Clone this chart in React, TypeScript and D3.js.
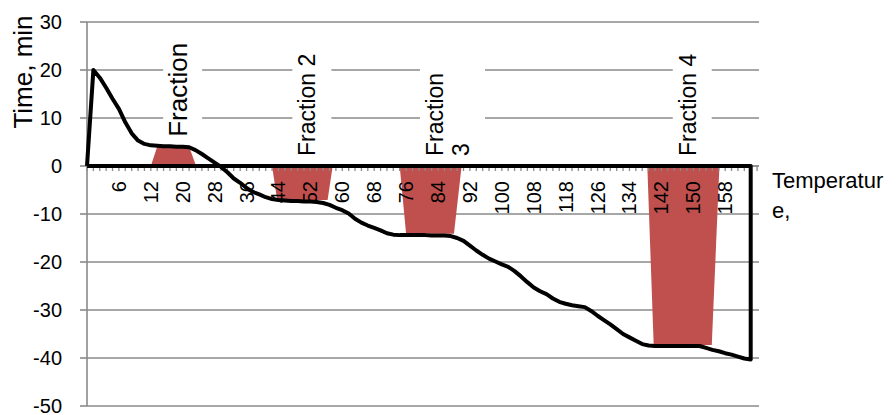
import * as d3 from 'd3';
import React, { useEffect, useRef } from 'react';

// time (min) at each temperature step
const timeValues = [
  0, 20, 18.4, 16.3, 14, 11.9, 9.1, 6.8, 5.3, 4.6,
  4.3, 4.2, 4.1, 4.1, 4.0, 4.0, 3.9, 3.3, 2.5, 1.6,
  0.7, -0.2, -1.3, -2.6, -3.5, -4.6, -5.4, -5.9, -6.5, -6.9,
  -7.1, -7.2, -7.3, -7.3, -7.4, -7.4, -7.5, -7.7, -8.1, -8.7,
  -9.2, -9.9, -11.0, -11.8, -12.4, -12.9, -13.4, -14.0, -14.3, -14.4,
  -14.4, -14.4, -14.4, -14.4, -14.5, -14.5, -14.5, -14.6, -15.0, -15.6,
  -16.6, -17.6, -18.5, -19.3, -19.9, -20.5, -21.0, -21.9, -23.0, -24.2,
  -25.3, -26.1, -26.7, -27.6, -28.3, -28.7, -29.0, -29.2, -29.4, -30.2,
  -31.2, -32.1, -33.0, -34.0, -35.0, -35.7, -36.4, -37.1, -37.4, -37.5,
  -37.5, -37.5, -37.5, -37.5, -37.5, -37.5, -37.5, -37.9, -38.3, -38.6,
  -39.0, -39.3, -39.7, -40.1, -40.3,
];

// category labels shown on every 5th step
const tempLabels = ['6', '12', '20', '28', '36', '44', '52', '60', '68', '76',
  '84', '92', '100', '108', '118', '126', '134', '142', '150', '158'];
const labelEvery = 5;

// fraction bands: [category, value]
const fraction1: [number, number][] = [[10, 0], [11, 4.0], [16, 4.0], [17.1, 0]];
const fraction2: [number, number][] = [[29, 0], [29.8, -7.1], [37.7, -7.1], [38.5, 0]];
const fraction3: [number, number][] = [[49, 0], [50, -14.1], [57.5, -14.1], [58.7, 0]];
const fraction4: [number, number][] = [[87.8, 0], [88.8, -37.3], [97.9, -37.3], [99.1, 0]];
const fractions = [fraction1, fraction2, fraction3, fraction4];
const fractionLabels = [['Fraction'], ['Fraction 2'], ['Fraction', '3'], ['Fraction 4']];
const labelSizes = [26, 23, 23, 23];

const yTicks = [30, 20, 10, 0, -10, -20, -30, -40, -50];

const W = 896;
const H = 415;
const FONT = '"Liberation Sans", Arial, sans-serif';

export default function App() {
  const svgRef = useRef<SVGSVGElement>(null);

  useEffect(() => {
    const svg = d3.select(svgRef.current).html('');
    const left = 87;
    const right = 759;

    // axis runs a little past the last category
    const x = d3.scaleLinear().domain([0, 105.3]).range([left, right]);
    const y = d3.scaleLinear().domain([-50, 30]).range([406, 22]);
    const grid = '#8a8a8a';

    svg.append('rect').attr('width', W).attr('height', H).attr('fill', '#fff');

    // gridlines
    svg.append('g')
      .selectAll('line')
      .data(yTicks)
      .enter().append('line')
      .attr('x1', left).attr('x2', right)
      .attr('y1', d => y(d)).attr('y2', d => y(d))
      .attr('stroke', grid).attr('stroke-width', 1.6);

    // fraction areas
    const area = d3.area<[number, number]>()
      .x(d => x(d[0]))
      .y0(y(0))
      .y1(d => y(d[1]));
    svg.append('g')
      .selectAll('path')
      .data(fractions)
      .enter().append('path')
      .attr('d', d => area(d)!)
      .attr('fill', '#C0504D');

    // fraction labels with white boxes
    fractions.forEach((f, i) => {
      const top = f.reduce((m, p) => Math.max(m, p[1]), 0);
      const cx = (x(f[1][0]) + x(f[2][0])) / 2 + 5;
      const bottom = y(top) - 10;
      const size = labelSizes[i];
      const lines = fractionLabels[i];
      const lineH = size * 1.13;
      const g = svg.append('g');
      const t = g.append('text')
        .attr('transform', `translate(${cx},${bottom}) rotate(-90)`)
        .attr('font-family', FONT)
        .attr('font-size', size)
        .attr('fill', '#000');
      lines.forEach((ln, k) => {
        t.append('tspan')
          .attr('x', 0)
          .attr('y', k * lineH)
          .attr('dominant-baseline', 'central')
          .text(ln);
      });
      const len = Math.max(...(t.selectAll('tspan').nodes() as SVGTextContentElement[])
        .map(n => n.getComputedTextLength()));
      g.insert('rect', 'text')
        .attr('x', cx - 15)
        .attr('width', 15 + 24 + (lines.length - 1) * lineH)
        .attr('y', bottom - len - 4)
        .attr('height', len + 8)
        .attr('fill', '#fff');
    });

    // y axis
    svg.append('line')
      .attr('x1', left).attr('x2', left)
      .attr('y1', y(30)).attr('y2', y(-50))
      .attr('stroke', grid).attr('stroke-width', 1.6);
    svg.append('g')
      .selectAll('line')
      .data(yTicks)
      .enter().append('line')
      .attr('x1', left - 7).attr('x2', left)
      .attr('y1', d => y(d)).attr('y2', d => y(d))
      .attr('stroke', grid).attr('stroke-width', 1.6);
    svg.append('g')
      .selectAll('text')
      .data(yTicks)
      .enter().append('text')
      .attr('x', 62)
      .attr('y', d => y(d))
      .attr('text-anchor', 'end')
      .attr('dominant-baseline', 'central')
      .attr('font-family', FONT)
      .attr('font-size', 20)
      .text(d => String(d));

    // x axis at zero
    svg.append('line')
      .attr('x1', left).attr('x2', right)
      .attr('y1', y(0)).attr('y2', y(0))
      .attr('stroke', grid).attr('stroke-width', 1.6);
    svg.append('g')
      .selectAll('line')
      .data(d3.range(0, 106))
      .enter().append('line')
      .attr('x1', d => x(d)).attr('x2', d => x(d))
      .attr('y1', y(0)).attr('y2', y(0) + 5)
      .attr('stroke', grid).attr('stroke-width', 1.3);
    svg.append('g')
      .selectAll('text')
      .data(tempLabels)
      .enter().append('text')
      .attr('transform', (_, i) => `translate(${x((i + 1) * labelEvery)},${y(0) + 15}) rotate(-90)`)
      .attr('text-anchor', 'end')
      .attr('dominant-baseline', 'central')
      .attr('font-family', FONT)
      .attr('font-size', 20)
      .text(d => d);

    // time line, closed back to the axis
    const last = timeValues.length - 1;
    const pts: [number, number][] = timeValues.map((v, i) => [x(i), y(v)]);
    pts.push([x(last), y(0)]);
    pts.push([x(0), y(0)]);
    svg.append('path')
      .attr('d', d3.line()(pts)!)
      .attr('fill', 'none')
      .attr('stroke', '#000')
      .attr('stroke-width', 4)
      .attr('stroke-linejoin', 'round');

    // axis titles
    svg.append('text')
      .attr('transform', `translate(22.5,72) rotate(-90)`)
      .attr('text-anchor', 'middle')
      .attr('dominant-baseline', 'central')
      .attr('font-family', FONT)
      .attr('font-size', 26)
      .text('Time, min');
    const xt = svg.append('text')
      .attr('font-family', FONT)
      .attr('font-size', 22);
    xt.append('tspan').attr('x', 772).attr('y', 188).text('Temperatur');
    xt.append('tspan').attr('x', 772).attr('y', 218).text('e,');
  }, []);

  return (
    <svg
      ref={svgRef}
      width={W}
      height={H}
      style={{ position: 'absolute', left: 0, top: 0, background: '#fff' }}
    />
  );
}
